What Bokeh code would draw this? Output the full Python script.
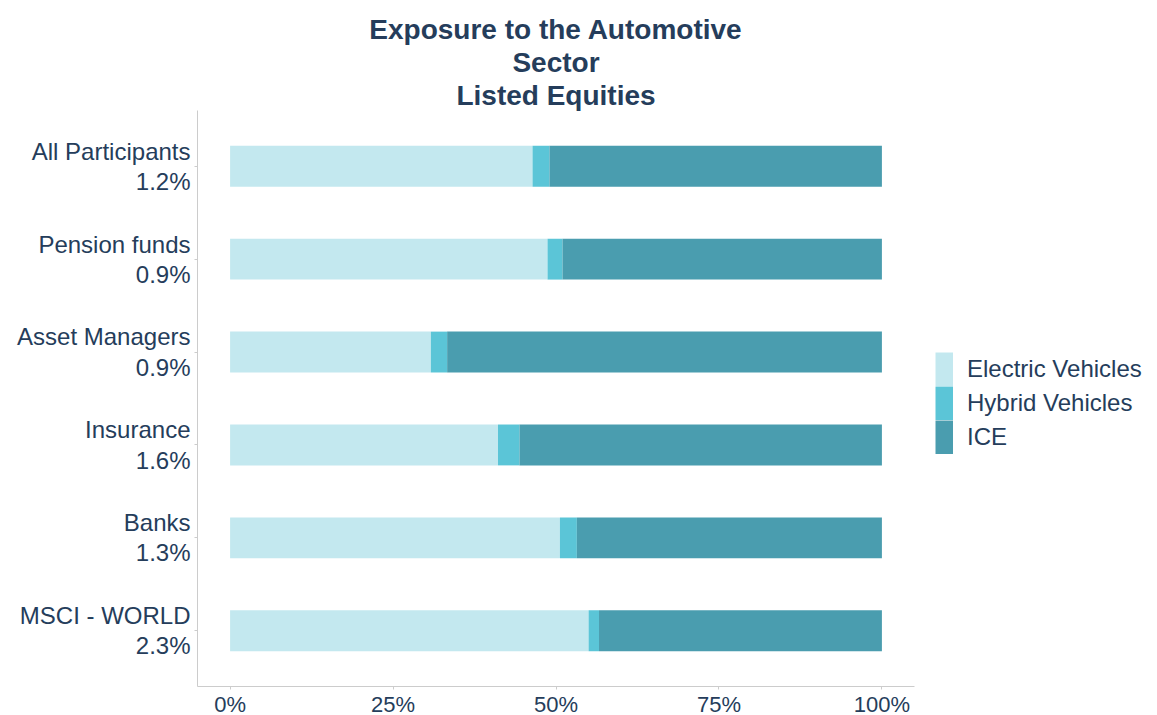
from bokeh.plotting import figure
from bokeh.models import (ColumnDataSource, FactorRange, Range1d, FixedTicker,
                          NumeralTickFormatter, Legend, LegendItem, Title)
from bokeh.embed import file_html
from bokeh.resources import INLINE

categories = ["All Participants\n1.2%", "Pension funds\n0.9%", "Asset Managers\n0.9%",
              "Insurance\n1.6%", "Banks\n1.3%", "MSCI - WORLD\n2.3%"]
electric = [46.4, 48.7, 30.8, 41.1, 50.6, 55.0]
hybrid = [2.6, 2.3, 2.5, 3.3, 2.6, 1.6]
ice = [51.0, 49.0, 66.7, 55.6, 46.8, 43.4]
series = ["Electric Vehicles", "Hybrid Vehicles", "ICE"]
colors = ["#c3e8ef", "#5bc5d7", "#4a9daf"]
x_ticks = [0, 0.25, 0.5, 0.75, 1.0]

TEXT = "#253d5b"
FONT = "Liberation Sans"

src = ColumnDataSource(dict(
    cat=categories,
    ev=[v / 100 for v in electric],
    hy=[v / 100 for v in hybrid],
    ice=[v / 100 for v in ice],
))

p = figure(frame_width=717, frame_height=576, output_backend="svg", toolbar_location=None,
           y_range=FactorRange(*list(reversed(categories)), range_padding=0.2 / 6),
           x_range=Range1d(-0.05, 1.05),
           min_border_left=197, min_border_right=243, min_border_top=110, min_border_bottom=29)
p.title = None

p.hbar_stack(["ev", "hy", "ice"], y="cat", height=0.44, color=colors,
             source=src, line_color=None)

# legend keys: invisible (NaN) line renderers drawn in the legend as thick butt-capped bands
key_renderers = [p.line(x=[float("nan")], y=[categories[0]], line_color=c,
                        line_width=34, line_cap="butt")
                 for c in colors]

for txt in ["Listed Equities", "Sector", "Exposure to the Automotive"]:
    p.add_layout(Title(text=txt, align="center", text_font=FONT, text_font_size="28px",
                       text_font_style="bold", text_color=TEXT, standoff=0), "above")

legend = Legend(items=[LegendItem(label=s, renderers=[r]) for s, r in zip(series, key_renderers)],
                location=(21, 232), glyph_width=18, glyph_height=34, spacing=0,
                label_text_font=FONT, label_text_font_size="24px", label_text_color=TEXT,
                label_standoff=14, border_line_color=None, background_fill_alpha=0,
                margin=0, padding=0)
p.add_layout(legend, "right")

p.xaxis.ticker = FixedTicker(ticks=x_ticks)
p.xaxis.formatter = NumeralTickFormatter(format="0%")
for ax in (p.xaxis, p.yaxis):
    ax.axis_line_color = "#cccccc"
    ax.major_tick_line_color = "#cccccc"
    ax.major_tick_out = 3
    ax.major_tick_in = 0
    ax.minor_tick_line_color = None
    ax.major_label_text_font = FONT
    ax.major_label_text_color = TEXT
p.yaxis.major_label_text_font_size = "24px"
p.yaxis.major_label_text_line_height = 1.12
p.yaxis.major_label_standoff = 4
p.xaxis.major_label_text_font_size = "22px"
p.xaxis.major_label_standoff = 2
p.xgrid.grid_line_color = None
p.ygrid.grid_line_color = None
p.outline_line_color = None

open("out.html", "w").write(file_html(p, INLINE))
